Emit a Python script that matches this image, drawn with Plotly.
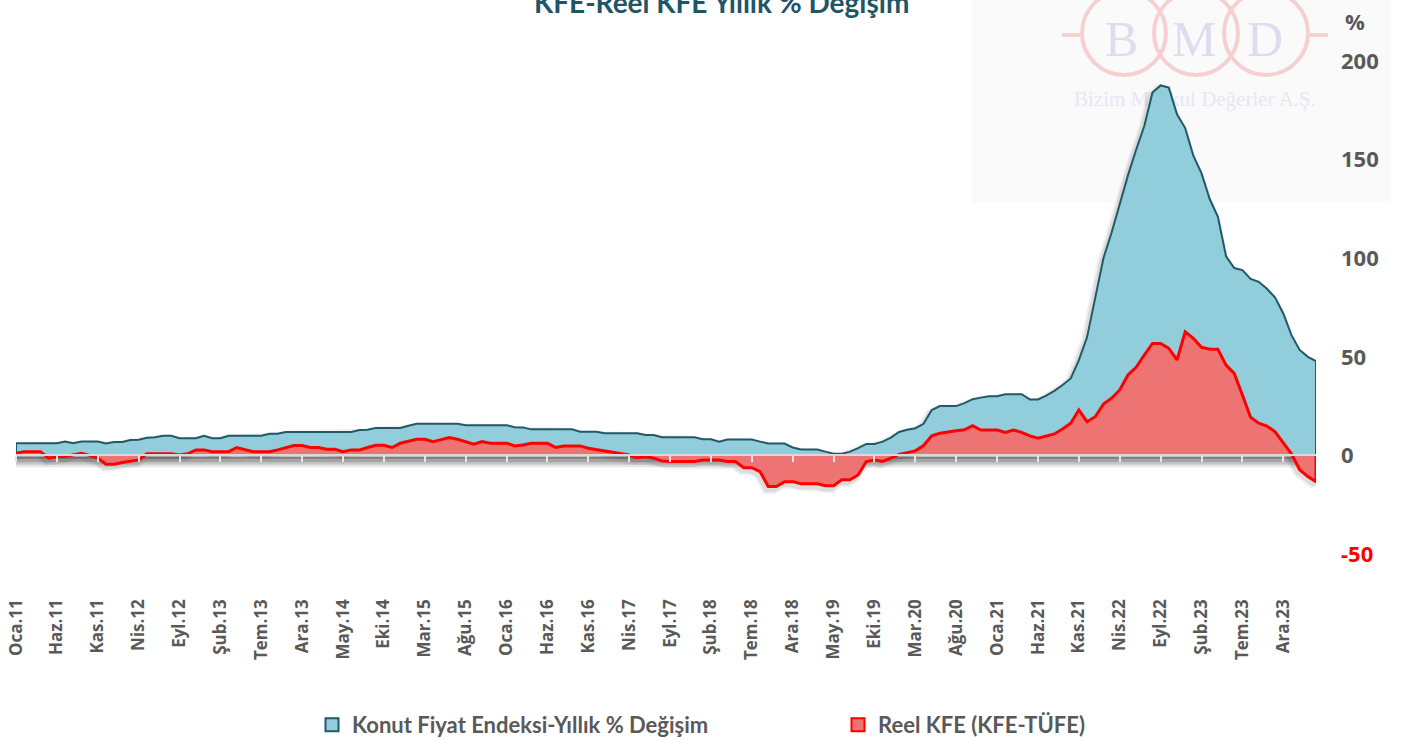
import plotly.graph_objects as go

# ---------------- data ----------------
months_tr = ["Oca", "Şub", "Mar", "Nis", "May", "Haz", "Tem", "Ağu", "Eyl", "Eki", "Kas", "Ara"]
categories = [f"{m}.{y:02d}" for y in range(11, 25) for m in months_tr][:160]   # Oca.11 ... Nis.24

kfe_yoy = [
    6.2, 6.2, 6.2, 6.2, 6.2, 6.2, 7.0, 6.2, 7.0, 7.0,
    7.0, 6.0, 6.8, 6.8, 7.8, 7.9, 8.9, 9.2, 10.0, 10.0,
    8.7, 8.7, 8.7, 10.0, 8.7, 8.7, 10.0, 10.0, 10.0, 10.0,
    10.0, 11.0, 11.0, 11.9, 11.9, 11.9, 11.9, 11.9, 11.9, 11.9,
    11.9, 11.9, 12.9, 13.0, 13.9, 13.9, 13.9, 13.9, 15.0, 16.0,
    16.0, 16.0, 16.0, 16.0, 16.0, 15.3, 15.3, 15.3, 15.3, 15.3,
    15.3, 14.3, 14.2, 13.2, 13.2, 13.2, 13.2, 13.2, 13.2, 12.0,
    12.0, 12.0, 11.2, 11.2, 11.2, 11.2, 11.2, 10.4, 10.3, 9.2,
    9.2, 9.2, 9.2, 9.2, 8.2, 8.2, 7.0, 8.0, 8.0, 8.0,
    8.0, 7.0, 6.0, 6.0, 6.0, 4.0, 3.0, 3.0, 3.0, 1.9,
    0.9, 0.9, 1.9, 3.7, 5.8, 5.8, 7.0, 9.0, 11.9, 13.0,
    13.8, 16.0, 23.0, 25.0, 25.0, 25.0, 26.5, 28.5, 29.3, 30.0,
    30.0, 31.0, 31.0, 31.0, 28.4, 28.4, 30.3, 32.7, 35.7, 39.0,
    48.3, 60.0, 80.0, 100.0, 113.0, 128.0, 142.0, 155.0, 167.0, 184.0,
    187.6, 186.5, 173.0, 166.0, 152.0, 143.0, 130.0, 121.0, 101.0, 95.0,
    94.0, 89.5, 88.0, 84.5, 80.0, 72.0, 61.0, 53.5, 50.0, 47.8,
]

reel_kfe = [
    1.1, 1.9, 1.9, 1.9, -1.4, -0.6, -0.6, 0.2, 1.1, 0.0,
    -1.4, -4.5, -4.5, -3.6, -2.8, -2.3, 0.8, 0.8, 0.8, 0.8,
    0.2, 0.8, 2.8, 2.8, 1.9, 1.9, 1.9, 4.0, 3.0, 1.9,
    1.9, 1.9, 2.8, 4.0, 5.0, 5.0, 4.0, 4.0, 3.1, 3.1,
    1.9, 2.8, 2.8, 4.0, 5.1, 5.1, 4.0, 6.2, 7.2, 8.2,
    8.2, 7.0, 8.0, 9.0, 8.2, 7.0, 5.7, 7.0, 6.2, 6.2,
    6.2, 4.8, 5.3, 6.2, 6.2, 6.2, 4.0, 4.8, 4.8, 4.8,
    3.6, 2.9, 2.2, 1.5, 0.8, 0.2, -1.2, -0.6, -1.4, -2.8,
    -3.1, -3.1, -3.1, -3.1, -2.3, -2.3, -2.3, -3.1, -3.1, -6.2,
    -6.2, -8.2, -15.8, -15.8, -13.3, -13.3, -14.4, -14.4, -14.4, -15.4,
    -15.4, -12.4, -12.4, -9.9, -3.1, -2.3, -3.1, -1.4, 0.5, 1.4,
    2.3, 5.0, 9.9, 11.2, 12.0, 12.5, 13.0, 15.1, 12.9, 12.9,
    12.9, 11.7, 12.9, 11.7, 9.9, 8.7, 9.8, 10.9, 13.4, 16.3,
    23.0, 17.1, 19.6, 26.0, 29.0, 33.2, 40.8, 44.7, 50.9, 56.8,
    56.8, 54.3, 48.4, 62.7, 59.3, 54.8, 53.8, 53.8, 45.8, 41.6,
    30.6, 19.3, 16.3, 14.9, 12.0, 6.2, 0.8, -7.3, -10.7, -13.3,
]

tick_step = 5
y_tick_vals = [-50, 0, 50, 100, 150, 200]
y_tick_text = ['<span style="color:#FF0000">-50</span>', "0", "50", "100", "150", "200"]

series_names = ["Konut Fiyat Endeksi-Yıllık % Değişim", "Reel KFE (KFE-TÜFE)"]

# ---------------- styling / geometry ----------------
W, H = 1415, 740
ML, MR, MT, MB = 16, 99, 61, 186
PW, PH = W - ML - MR, H - MT - MB

def px_x(px):
    return (px - ML) / PW

def px_y(py):
    return (H - MB - py) / PH

BLUE_FILL, BLUE_LINE = "#92CDDC", "#215968"
RED_FILL, RED_LINE = "#EE7373", "#FF0000"
GRAY_TXT = "#595959"
LOGO_PINK = "#F6D0D0"

idx = list(range(len(categories)))
n_last = idx[-1]

fig = go.Figure()

# watermark company name (drawn on the base subplot so data lies above it)
fig.add_trace(go.Scatter(
    x=[1195], y=[101], mode="text", text=["Bizim Menkul Değerler A.Ş."],
    textfont=dict(family="Liberation Serif", size=21, color="#E6E7F1"),
    cliponaxis=False, hoverinfo="skip", showlegend=False, xaxis="x", yaxis="y"))

# soft drop shadows of the two area outlines
dx, dy = -0.25, -1.6
for series in (kfe_yoy, reel_kfe):
    xs = [i + dx for i in [idx[0]] + idx + [n_last]]
    ys = [v + dy for v in [0] + series + [0]]
    for w, a in ((9, 0.05), (5, 0.09)):
        fig.add_trace(go.Scatter(
            x=xs, y=ys, mode="lines", line=dict(color=f"rgba(0,0,0,{a})", width=w),
            showlegend=False, hoverinfo="skip", xaxis="x2", yaxis="y2"))

# data areas (closed polygons so that the border runs down the ends)
fig.add_trace(go.Scatter(
    x=[idx[0]] + idx + [n_last], y=[0] + kfe_yoy + [0],
    mode="lines", fill="toself", fillcolor=BLUE_FILL,
    line=dict(color=BLUE_LINE, width=2), showlegend=False, hoverinfo="skip",
    xaxis="x2", yaxis="y2"))
fig.add_trace(go.Scatter(
    x=[idx[0]] + idx + [n_last], y=[0] + reel_kfe + [0],
    mode="lines", fill="toself", fillcolor=RED_FILL,
    line=dict(color=RED_LINE, width=3), showlegend=False, hoverinfo="skip",
    xaxis="x2", yaxis="y2"))

# legend entries
fig.add_trace(go.Scatter(
    x=[None], y=[None], mode="markers", name=series_names[0],
    marker=dict(symbol="square", size=13, color=BLUE_FILL, line=dict(color=BLUE_LINE, width=2)),
    xaxis="x2", yaxis="y2"))
fig.add_trace(go.Scatter(
    x=[None], y=[None], mode="markers", name=series_names[1],
    marker=dict(symbol="square", size=13, color=RED_FILL, line=dict(color=RED_LINE, width=2)),
    xaxis="x2", yaxis="y2"))

shapes = []
# watermark backdrop
shapes.append(dict(type="rect", xref="paper", yref="paper",
                   x0=px_x(972), x1=px_x(1391), y0=px_y(203), y1=px_y(0),
                   fillcolor="#FAFAFB", line=dict(width=0), layer="below"))
# logo circles
for cx in (1124, 1196, 1266):
    r = 42
    shapes.append(dict(type="circle", xref="paper", yref="paper",
                       x0=px_x(cx - r), x1=px_x(cx + r), y0=px_y(33 + r), y1=px_y(33 - r),
                       line=dict(color=LOGO_PINK, width=4), layer="below"))
shapes.append(dict(type="line", xref="paper", yref="paper",
                   x0=px_x(1062), x1=px_x(1083), y0=px_y(35), y1=px_y(35),
                   line=dict(color=LOGO_PINK, width=4), layer="below"))
shapes.append(dict(type="line", xref="paper", yref="paper",
                   x0=px_x(1307), x1=px_x(1328), y0=px_y(35), y1=px_y(35),
                   line=dict(color=LOGO_PINK, width=4), layer="below"))
# axis shadow band under the zero line
for (a, b, op) in [(0.6, 2.0, 0.75), (2.0, 3.5, 0.55), (3.5, 4.8, 0.35), (4.8, 6.0, 0.15)]:
    shapes.append(dict(type="rect", xref="paper", yref="y2", x0=0, x1=1, y0=-a, y1=-b,
                       fillcolor="#5a5a5a", opacity=op, line=dict(width=0), layer="below"))

annotations = [
    dict(text="KFE-Reel KFE Yıllık % Değişim", xref="paper", yref="paper",
         x=px_x(721), y=px_y(21), xanchor="center", yanchor="bottom",
         showarrow=False, font=dict(family="Lato", size=28, color="#1F5566", weight="bold")),
    dict(text="%", xref="paper", yref="paper", x=px_x(1343), y=px_y(21),
         xanchor="left", yanchor="middle", showarrow=False,
         font=dict(family="Open Sans", size=22, color=GRAY_TXT, weight="bold")),
]
for letter, cx in zip(["B", "M", "D"], (1121, 1194, 1265)):
    annotations.append(dict(text=letter, xref="paper", yref="paper", x=px_x(cx), y=px_y(39),
                            xanchor="center", yanchor="middle", showarrow=False,
                            font=dict(family="Liberation Serif", size=50, color="#DCDEEE")))

fig.update_layout(
    width=W, height=H, autosize=False,
    margin=dict(l=ML, r=MR, t=MT, b=MB, autoexpand=False),
    paper_bgcolor="white", plot_bgcolor="rgba(0,0,0,0)",
    showlegend=True,
    legend=dict(orientation="h", x=px_x(312), xanchor="left", y=px_y(725), yanchor="middle",
                font=dict(family="Lato", size=22, color=GRAY_TXT, weight="bold"),
                entrywidth=481, entrywidthmode="pixels", bgcolor="rgba(0,0,0,0)",
                itemclick=False, itemdoubleclick=False),
    xaxis=dict(range=[ML, ML + PW], visible=False, fixedrange=True, automargin=False),
    yaxis=dict(range=[H - MB, MT], visible=False, fixedrange=True, automargin=False),
    xaxis2=dict(overlaying="x", anchor="free", position=0.2, range=[0, n_last],
                tickmode="array", tickvals=idx[::tick_step], ticktext=categories[::tick_step],
                tickangle=-90, ticks="outside", ticklen=6, tickwidth=2, tickcolor="#E6E6E6",
                showline=True, linecolor="#D9D9D9", linewidth=2, showgrid=False, zeroline=False,
                tickfont=dict(family="Open Sans", size=17, color=GRAY_TXT, weight="bold"),
                ticklabelstandoff=130, fixedrange=True, automargin=False),
    yaxis2=dict(overlaying="y", anchor="x2", side="right", range=[-50, 200],
                tickmode="array", tickvals=y_tick_vals, ticktext=y_tick_text,
                showgrid=False, zeroline=False, showline=False, ticks="",
                tickfont=dict(family="Open Sans", size=22, color=GRAY_TXT, weight="bold"),
                ticklabelstandoff=24, fixedrange=True, automargin=False),
    shapes=shapes,
    annotations=annotations,
)

# remove the browser's default 8px body margin so the figure fills the window exactly
fig.write_html("out.html", config={"displayModeBar": False, "staticPlot": True},
               post_script="document.body.style.margin='0';")
